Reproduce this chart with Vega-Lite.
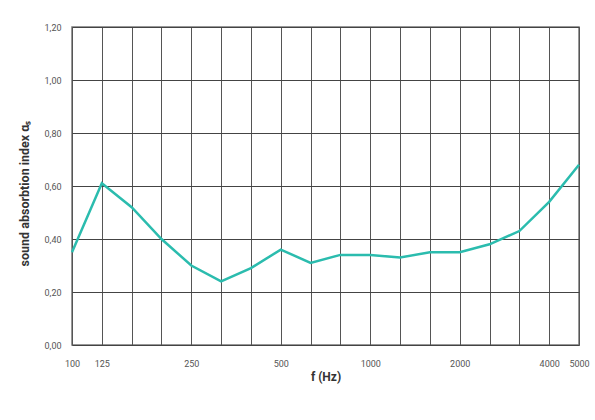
{
  "$schema": "https://vega.github.io/schema/vega-lite/v6.json",
  "width": 507,
  "height": 318,
  "autosize": {"type": "none"},
  "padding": {"left": 72, "top": 27, "right": 16, "bottom": 75},
  "background": "white",
  "config": {
    "font": "Roboto",
    "view": {"stroke": "#777", "strokeWidth": 1.5}
  },
  "data": {
    "values": [
      {"f": "100", "a": 0.35},
      {"f": "125", "a": 0.61},
      {"f": "160", "a": 0.52},
      {"f": "200", "a": 0.40},
      {"f": "250", "a": 0.30},
      {"f": "315", "a": 0.24},
      {"f": "400", "a": 0.29},
      {"f": "500", "a": 0.36},
      {"f": "630", "a": 0.31},
      {"f": "800", "a": 0.34},
      {"f": "1000", "a": 0.34},
      {"f": "1250", "a": 0.33},
      {"f": "1600", "a": 0.35},
      {"f": "2000", "a": 0.35},
      {"f": "2500", "a": 0.38},
      {"f": "3150", "a": 0.43},
      {"f": "4000", "a": 0.54},
      {"f": "5000", "a": 0.68}
    ]
  },
  "mark": {"type": "line", "color": "#2bbcae", "strokeWidth": 2.5},
  "encoding": {
    "x": {
      "field": "f",
      "type": "ordinal",
      "sort": null,
      "scale": {"type": "point", "padding": 0},
      "axis": {
        "title": "f (Hz)",
        "titleFontSize": 12,
        "titleFontWeight": "bold",
        "titleColor": "#333",
        "titlePadding": 3,
        "labelAngle": 0,
        "labelFontSize": 9,
        "labelColor": "#555",
        "labelPadding": 14,
        "labelOverlap": false,
        "labelExpr": "indexof(['100','125','250','500','1000','2000','4000','5000'], datum.value) >= 0 ? datum.value : ''",
        "ticks": false,
        "domain": false,
        "grid": true,
        "gridColor": "#555",
        "gridWidth": 1
      }
    },
    "y": {
      "field": "a",
      "type": "quantitative",
      "scale": {"domain": [0, 1.2], "nice": false},
      "axis": {
        "title": "sound absorbtion index αₛ",
        "titleFontSize": 12.5,
        "titleFontWeight": "bold",
        "titleColor": "#333",
        "titlePadding": 13,
        "titleY": 166,
        "values": [0, 0.2, 0.4, 0.6, 0.8, 1.0, 1.2],
        "labelExpr": "replace(format(datum.value, '.2f'), '.', ',')",
        "labelFontSize": 9,
        "labelColor": "#555",
        "labelPadding": 11,
        "ticks": false,
        "domain": false,
        "grid": true,
        "gridColor": "#444",
        "gridWidth": 1
      }
    }
  }
}
